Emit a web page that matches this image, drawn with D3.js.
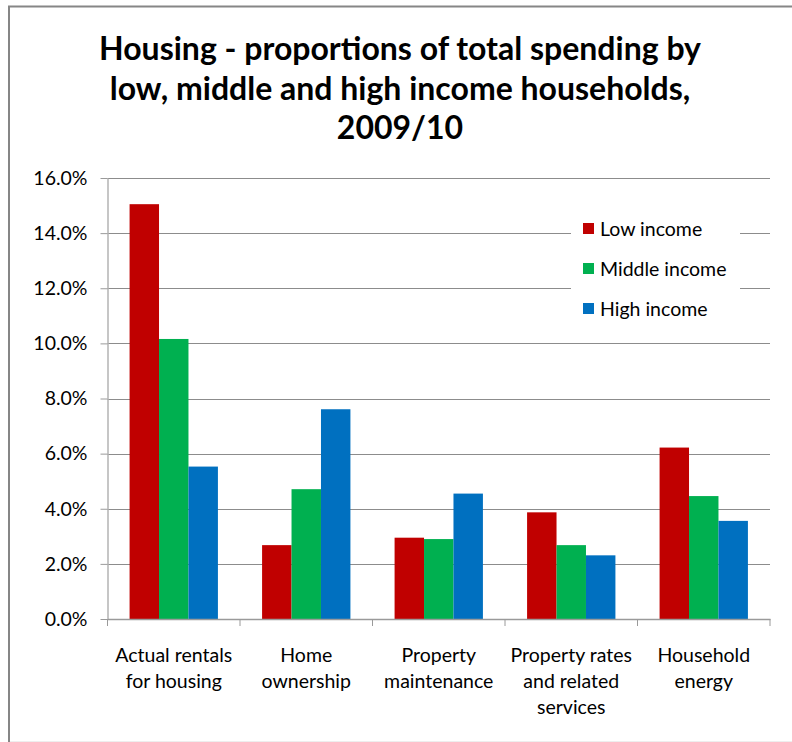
<!DOCTYPE html>
<html>
<head>
<meta charset="utf-8">
<script src="https://cdn.jsdelivr.net/npm/d3@7"></script>
<style>
  body { margin:0; background:#fff; }
  svg text { font-family: Lato, "Open Sans", sans-serif; fill:#000; }
</style>
</head>
<body>
<div class="chart"></div>
<script>
// Data
const categories = [
  ['Actual rentals', 'for housing'],
  ['Home', 'ownership'],
  ['Property', 'maintenance'],
  ['Property rates', 'and related', 'services'],
  ['Household', 'energy']
];
const seriesNames = ['Low income', 'Middle income', 'High income'];
const lowIncome    = [15.05, 2.68, 2.95, 3.87, 6.22];
const middleIncome = [10.16, 4.71, 2.90, 2.68, 4.46];
const highIncome   = [5.53, 7.61, 4.55, 2.31, 3.56];
const yTicks = [0, 2, 4, 6, 8, 10, 12, 14, 16];
const titleLines = [
  'Housing - proportions of total spending by',
  'low, middle and high income households,',
  '2009/10'
];
const colors = ['#C00000', '#00B050', '#0070C0'];

const seriesValues = [lowIncome, middleIncome, highIncome];
const catKeys = categories.map(c => c.join(' '));
const table = catKeys.map((k, i) => ({
  key: k,
  lines: categories[i],
  values: seriesNames.map((s, j) => ({series: s, value: seriesValues[j][i]}))
}));

// Canvas
const svg_width = 792, svg_height = 742;
const margin = {top: 178, right: 22, bottom: 123, left: 107.5};
const labelSize = '19.5px';

const svg = d3.select('.chart').append('svg')
  .attr('width', svg_width).attr('height', svg_height);

// outer frame
svg.append('line').attr('x1', 9).attr('x2', 9).attr('y1', 6).attr('y2', 742)
  .style('stroke', '#868686').style('stroke-width', 2);
svg.append('line').attr('x1', 8).attr('x2', 792).attr('y1', 6.5).attr('y2', 6.5)
  .style('stroke', '#868686').style('stroke-width', 2);
svg.append('line').attr('x1', 10).attr('x2', 792).attr('y1', 741.5).attr('y2', 741.5)
  .style('stroke', '#eeeeee').style('stroke-width', 1);

// title
const title = svg.append('text')
  .attr('text-anchor', 'middle')
  .style('font-weight', 'bold').style('font-size', '32px');
titleLines.forEach((t, i) => {
  title.append('tspan').attr('x', 400).attr('y', 60 + i * 39.5).text(t);
});

// scales
const xScale = d3.scaleBand().domain(catKeys)
  .range([margin.left, svg_width - margin.right]).padding(0);
const xInner = d3.scaleBand().domain(seriesNames)
  .range([0, xScale.bandwidth()]).paddingInner(0).paddingOuter(0.75);
const yScale = d3.scaleLinear().domain([0, 16])
  .range([svg_height - margin.bottom, margin.top]);

// gridlines
svg.append('g').selectAll('line').data(yTicks.slice(1)).enter()
  .append('line')
  .attr('x1', margin.left).attr('x2', svg_width - margin.right)
  .attr('y1', d => Math.round(yScale(d)) + 0.5).attr('y2', d => Math.round(yScale(d)) + 0.5)
  .style('stroke', '#8c8c8c').style('stroke-width', 1.2);

// legend box (white background over gridlines)
const legend = svg.append('g').attr('class', 'legend');
legend.append('rect').attr('x', 571).attr('y', 205).attr('width', 169).attr('height', 120)
  .style('fill', '#fff');
const legendItems = legend.selectAll('.item').data(seriesNames).enter()
  .append('g').attr('class', 'item')
  .attr('transform', (d, i) => `translate(583,${223 + i * 40})`);
legendItems.append('rect').attr('width', 11).attr('height', 11)
  .style('fill', (d, i) => colors[i]);
legendItems.append('text').attr('x', 17).attr('y', 12.5)
  .style('font-size', labelSize).text(d => d);

// bars
const groups = svg.append('g').selectAll('.group').data(table).enter()
  .append('g').attr('class', 'group')
  .attr('transform', d => `translate(${xScale(d.key)},0)`);
groups.selectAll('rect').data(d => d.values).enter()
  .append('rect')
  .attr('x', d => xInner(d.series))
  .attr('y', d => yScale(d.value))
  .attr('width', xInner.bandwidth())
  .attr('height', d => yScale(0) - yScale(d.value))
  .style('fill', (d, i) => colors[i]);

// y axis
const yAxis = d3.axisLeft(yScale).tickValues(yTicks)
  .tickFormat(d => d.toFixed(1) + '%').tickSizeInner(7).tickSizeOuter(0).tickPadding(13);
const yAxisDraw = svg.append('g').attr('class', 'yaxis')
  .attr('transform', `translate(${margin.left},0)`).call(yAxis);
yAxisDraw.select('.domain').style('stroke', '#b3b3b3').style('stroke-width', 1.5);
yAxisDraw.selectAll('.tick line').style('stroke', '#9a9a9a');
yAxisDraw.selectAll('text').style('font-size', labelSize).style('font-family', 'Lato');

// x axis
const xAxis = d3.axisBottom(xScale).tickSize(0).tickFormat('');
const xAxisDraw = svg.append('g').attr('class', 'xaxis')
  .attr('transform', `translate(0,${yScale(0)})`).call(xAxis);
xAxisDraw.select('.domain').style('stroke', '#9a9a9a').style('stroke-width', 1.5);
// boundary ticks between categories
const bounds = catKeys.map(k => xScale(k)).concat([xScale.range()[1]]);
xAxisDraw.selectAll('.bound').data(bounds).enter()
  .append('line').attr('class', 'bound')
  .attr('x1', d => d).attr('x2', d => d).attr('y1', 0).attr('y2', 7)
  .style('stroke', '#9a9a9a');

// category labels
const labels = svg.append('g').selectAll('text').data(table).enter()
  .append('text')
  .attr('text-anchor', 'middle')
  .style('font-size', labelSize);
labels.each(function(d) {
  const cx = xScale(d.key) + xScale.bandwidth() / 2;
  d.lines.forEach((line, i) => {
    d3.select(this).append('tspan').attr('x', cx).attr('y', 662 + i * 26).text(line);
  });
});
</script>
</body>
</html>
